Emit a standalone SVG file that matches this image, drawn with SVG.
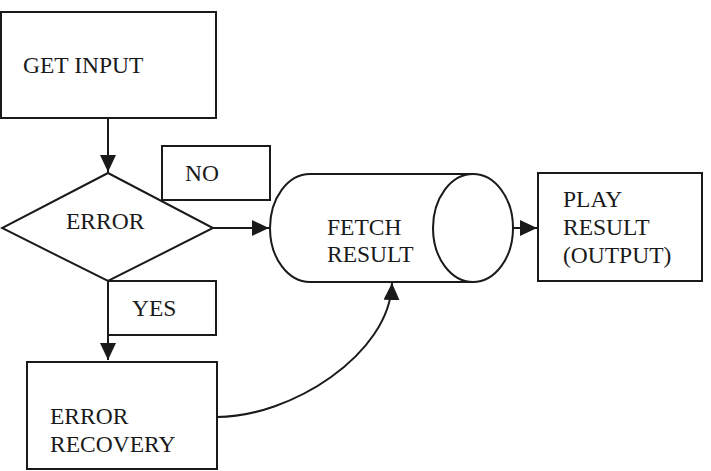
<svg xmlns="http://www.w3.org/2000/svg" width="711" height="471" viewBox="0 0 711 471">
<style>
.s{fill:#fff;stroke:#1a1a1a;stroke-width:2}
.c{fill:none;stroke:#1a1a1a;stroke-width:2}
text{font-family:"Liberation Serif","Times New Roman",serif;font-size:23.5px;fill:#1a1a1a}
</style>
<defs>
<marker id="ah" markerUnits="userSpaceOnUse" markerWidth="18" markerHeight="17" refX="17" refY="8" orient="auto">
<path d="M0,0 L17,8 L0,16 z" fill="#1a1a1a"/>
</marker>
</defs>
<g id="get-input">
<rect class="s" x="1" y="12" width="215" height="106"/>
<text x="23" y="73">GET INPUT</text>
</g>
<g id="connectors">
<path class="c" d="M108,118 L108,172" marker-end="url(#ah)"/>
<path class="c" d="M213,228 L269,228" marker-end="url(#ah)"/>
<path class="c" d="M513,228 L537,228" marker-end="url(#ah)"/>
<path class="c" d="M108,281 L108,360" marker-end="url(#ah)"/>
<path class="c" d="M217,417 C290,417 390,355 392,283" marker-end="url(#ah)"/>
</g>
<g id="no-label">
<rect class="s" x="162" y="146" width="108" height="54"/>
<text x="185" y="181">NO</text>
</g>
<g id="error">
<polygon class="s" points="108,173 213,228 108,281 2,228"/>
<text x="66" y="229">ERROR</text>
</g>
<g id="yes-label">
<rect class="s" x="108" y="281" width="108" height="54"/>
<text x="132" y="316">YES</text>
</g>
<g id="fetch-result">
<path class="s" d="M310,174 L473,174 L473,282 L310,282 A40,54 0 0 1 310,174 z"/>
<ellipse class="s" cx="473" cy="228" rx="40" ry="54"/>
<text x="327" y="235">FETCH</text>
<text x="327" y="262">RESULT</text>
</g>
<g id="play-result">
<rect class="s" x="538" y="173" width="164" height="108"/>
<text x="563" y="207">PLAY</text>
<text x="563" y="235">RESULT</text>
<text x="563" y="263">(OUTPUT)</text>
</g>
<g id="error-recovery">
<rect class="s" x="27" y="362" width="190" height="107"/>
<text x="50" y="424">ERROR</text>
<text x="50" y="452">RECOVERY</text>
</g>
</svg>
